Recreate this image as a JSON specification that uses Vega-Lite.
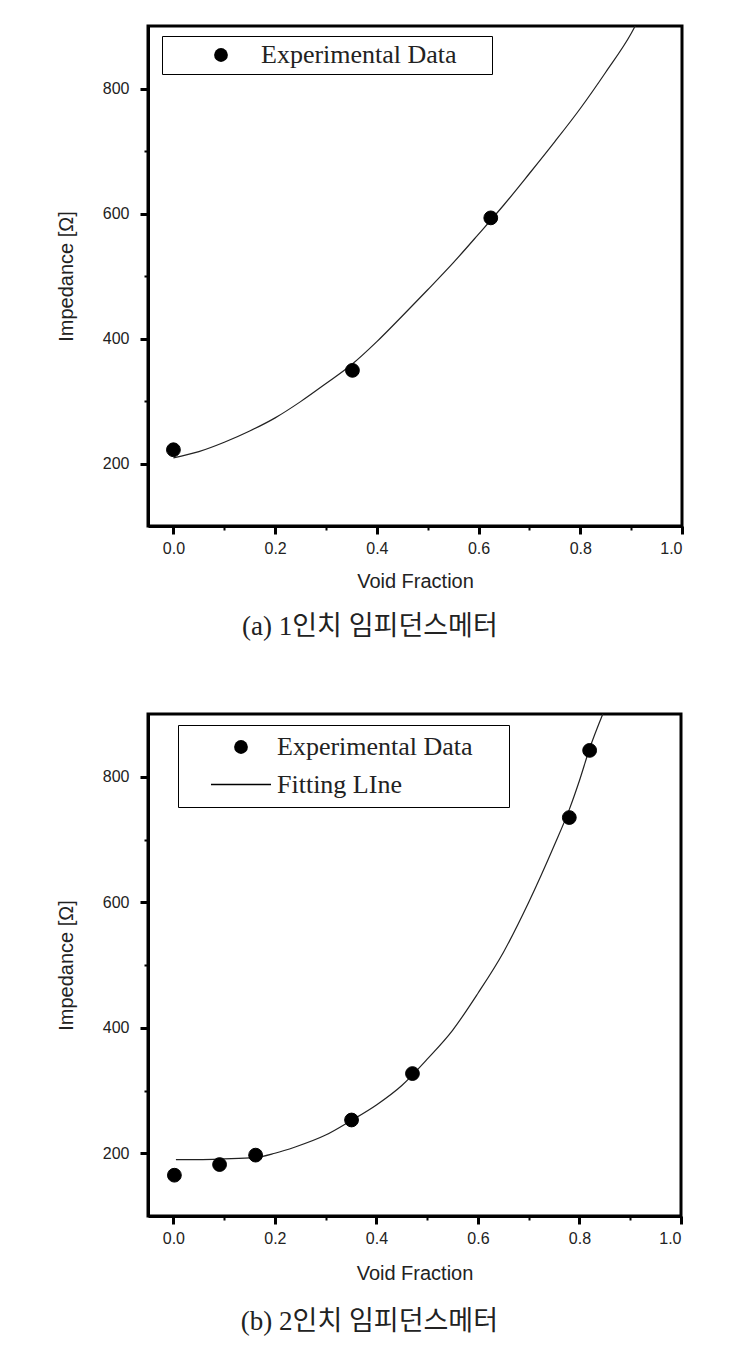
{
  "$schema": "https://vega.github.io/schema/vega-lite/v6.json",
  "background": "white",
  "padding": {"left": 54, "top": 22, "right": 5, "bottom": 5},
  "config": {
    "view": {"stroke": "black", "strokeWidth": 3},
    "axis": {
      "grid": false,
      "domainColor": "black",
      "domainWidth": 3,
      "tickColor": "black",
      "labelFont": "Liberation Sans",
      "labelFontSize": 16,
      "labelColor": "#222",
      "titleFont": "Liberation Sans",
      "titleFontSize": 20,
      "titleFontWeight": "normal",
      "titleColor": "#222"
    }
  },
  "datasets": {
    "a_pts": [
      {"void": 0.0, "impedance": 222, "series": "Experimental Data"},
      {"void": 0.352, "impedance": 349, "series": "Experimental Data"},
      {"void": 0.624, "impedance": 593, "series": "Experimental Data"}
    ],
    "a_fit": [
      {"void": 0.0, "impedance": 209},
      {"void": 0.05, "impedance": 219},
      {"void": 0.10, "impedance": 234},
      {"void": 0.15, "impedance": 252},
      {"void": 0.20, "impedance": 273},
      {"void": 0.25, "impedance": 299},
      {"void": 0.30, "impedance": 328},
      {"void": 0.35, "impedance": 358},
      {"void": 0.40, "impedance": 395},
      {"void": 0.45, "impedance": 436},
      {"void": 0.50, "impedance": 478},
      {"void": 0.55, "impedance": 521},
      {"void": 0.60, "impedance": 567},
      {"void": 0.65, "impedance": 614},
      {"void": 0.70, "impedance": 664},
      {"void": 0.75, "impedance": 715},
      {"void": 0.80, "impedance": 768},
      {"void": 0.85, "impedance": 826},
      {"void": 0.90, "impedance": 888},
      {"void": 0.908, "impedance": 900}
    ],
    "b_pts": [
      {"void": 0.002, "impedance": 165, "series": "Experimental Data"},
      {"void": 0.091, "impedance": 182, "series": "Experimental Data"},
      {"void": 0.162, "impedance": 197, "series": "Experimental Data"},
      {"void": 0.351, "impedance": 253, "series": "Experimental Data"},
      {"void": 0.471, "impedance": 327, "series": "Experimental Data"},
      {"void": 0.78, "impedance": 735, "series": "Experimental Data"},
      {"void": 0.82, "impedance": 842, "series": "Experimental Data"}
    ],
    "b_fit": [
      {"void": 0.005, "impedance": 190},
      {"void": 0.05, "impedance": 190},
      {"void": 0.10, "impedance": 191},
      {"void": 0.16, "impedance": 193},
      {"void": 0.20, "impedance": 200},
      {"void": 0.24, "impedance": 210},
      {"void": 0.30, "impedance": 229},
      {"void": 0.35, "impedance": 252},
      {"void": 0.40, "impedance": 277},
      {"void": 0.45, "impedance": 308},
      {"void": 0.50, "impedance": 350},
      {"void": 0.55, "impedance": 396},
      {"void": 0.60, "impedance": 455},
      {"void": 0.65, "impedance": 520},
      {"void": 0.70, "impedance": 600},
      {"void": 0.75, "impedance": 690},
      {"void": 0.78, "impedance": 748},
      {"void": 0.80, "impedance": 794},
      {"void": 0.82, "impedance": 845},
      {"void": 0.846, "impedance": 900}
    ]
  },
  "spacing": 68,
  "resolve": {
    "scale": {"x": "independent", "y": "independent", "shape": "independent", "size": "independent"},
    "legend": {"shape": "independent", "size": "independent"}
  },
  "vconcat": [
    {
      "width": 534,
      "height": 500,
      "title": {"text": "(a) 1인치 임피던스메터", "orient": "bottom", "anchor": "middle", "frame": "bounds", "font": "Liberation Serif, Noto Sans CJK KR", "fontSize": 27, "fontWeight": "normal", "color": "#222", "offset": 23},
      "layer": [
        {
          "data": {"name": "a_fit"},
          "mark": {"type": "line", "color": "#222", "strokeWidth": 1.2, "interpolate": "monotone"},
          "encoding": {
            "x": {"field": "void", "type": "quantitative", "scale": {"domain": [-0.05, 1.0], "nice": false, "zero": false},
              "axis": {"title": "Void Fraction", "values": [0, 0.1, 0.2, 0.3, 0.4, 0.5, 0.6, 0.7, 0.8, 0.9, 1.0], "format": ".1f",
                "labelExpr": "round(datum.value*10)%2==1 ? '' : datum.label",
                "tickSize": {"condition": {"test": "round(datum.value*10)%2==1", "value": 4}, "value": 8},
                "tickWidth": {"condition": {"test": "round(datum.value*10)%2==1", "value": 2}, "value": 3},
                "labelPadding": 6, "titlePadding": 15}},
            "y": {"field": "impedance", "type": "quantitative", "scale": {"domain": [100, 900], "nice": false, "zero": false},
              "axis": {"title": "Impedance [Ω]", "values": [200, 300, 400, 500, 600, 700, 800],
                "labelExpr": "datum.value%200==100 ? '' : datum.label",
                "tickSize": {"condition": {"test": "datum.value%200==100", "value": 4}, "value": 8},
                "tickWidth": {"condition": {"test": "datum.value%200==100", "value": 2}, "value": 3},
                "labelPadding": 11, "titlePadding": 26}}
          }
        },
        {
          "data": {"name": "a_pts"},
          "mark": {"type": "point", "filled": true, "color": "black", "stroke": "black", "strokeWidth": 1, "opacity": 1, "size": 190},
          "encoding": {
            "x": {"field": "void", "type": "quantitative"},
            "y": {"field": "impedance", "type": "quantitative"},
            "shape": {"field": "series", "type": "nominal", "scale": {"domain": ["Experimental Data"], "range": ["circle"]},
              "legend": {"title": "M", "titleOrient": "right", "titleOpacity": 0, "titleFontSize": 20, "titlePadding": 12,
                "orient": "none", "legendX": 14, "legendY": 10, "strokeColor": "black", "padding": 6, "clipHeight": 26,
                "labelFont": "Liberation Serif", "labelFontSize": 26, "labelColor": "#222", "labelLimit": 500, "labelOffset": 27, "symbolOffset": 40,
                "symbolFillColor": "black", "symbolStrokeColor": "black", "symbolSize": 190}}
          }
        }
      ]
    },
    {
      "width": 533,
      "height": 502,
      "title": {"text": "(b) 2인치 임피던스메터", "orient": "bottom", "anchor": "middle", "frame": "bounds", "font": "Liberation Serif, Noto Sans CJK KR", "fontSize": 27, "fontWeight": "normal", "color": "#222", "offset": 26},
      "layer": [
        {
          "data": {"name": "b_fit"},
          "mark": {"type": "line", "color": "#222", "strokeWidth": 1.2, "interpolate": "monotone"},
          "encoding": {
            "x": {"field": "void", "type": "quantitative", "scale": {"domain": [-0.05, 1.0], "nice": false, "zero": false},
              "axis": {"title": "Void Fraction", "values": [0, 0.1, 0.2, 0.3, 0.4, 0.5, 0.6, 0.7, 0.8, 0.9, 1.0], "format": ".1f",
                "labelExpr": "round(datum.value*10)%2==1 ? '' : datum.label",
                "tickSize": {"condition": {"test": "round(datum.value*10)%2==1", "value": 4}, "value": 8},
                "tickWidth": {"condition": {"test": "round(datum.value*10)%2==1", "value": 2}, "value": 3},
                "labelPadding": 6, "titlePadding": 17}},
            "y": {"field": "impedance", "type": "quantitative", "scale": {"domain": [100, 900], "nice": false, "zero": false},
              "axis": {"title": "Impedance [Ω]", "values": [200, 300, 400, 500, 600, 700, 800],
                "labelExpr": "datum.value%200==100 ? '' : datum.label",
                "tickSize": {"condition": {"test": "datum.value%200==100", "value": 4}, "value": 8},
                "tickWidth": {"condition": {"test": "datum.value%200==100", "value": 2}, "value": 3},
                "labelPadding": 11, "titlePadding": 26}}
          }
        },
        {
          "data": {"name": "b_pts"},
          "mark": {"type": "point", "filled": true, "color": "black", "stroke": "black", "strokeWidth": 1, "opacity": 1},
          "encoding": {
            "x": {"field": "void", "type": "quantitative"},
            "y": {"field": "impedance", "type": "quantitative"},
            "shape": {"field": "series", "type": "nominal", "scale": {"domain": ["Experimental Data", "Fitting LIne"], "range": ["circle", "M-1,-0.025H1V0.025H-1Z"]},
              "legend": {"title": "M", "titleOrient": "right", "titleOpacity": 0, "titleFontSize": 20, "titlePadding": 10,
                "orient": "none", "legendX": 30, "legendY": 11, "strokeColor": "black", "padding": 9, "rowPadding": 11.5, "clipHeight": 26,
                "labelFont": "Liberation Serif", "labelFontSize": 26, "labelColor": "#222", "labelLimit": 500, "labelOffset": 5, "symbolOffset": 23,
                "symbolFillColor": "black", "symbolStrokeColor": "black"}},
            "size": {"field": "series", "type": "nominal", "scale": {"type": "point", "domain": ["Experimental Data", "Fitting LIne"], "range": [190, 3600], "padding": 0},
              "legend": {"title": "M", "titleOrient": "right", "titleOpacity": 0, "titleFontSize": 20, "titlePadding": 10,
                "orient": "none", "legendX": 30, "legendY": 11, "strokeColor": "black", "padding": 9, "rowPadding": 11.5, "clipHeight": 26,
                "labelFont": "Liberation Serif", "labelFontSize": 26, "labelColor": "#222", "labelLimit": 500, "labelOffset": 5, "symbolOffset": 23,
                "symbolFillColor": "black", "symbolStrokeColor": "black"}}
          }
        }
      ]
    }
  ]
}
